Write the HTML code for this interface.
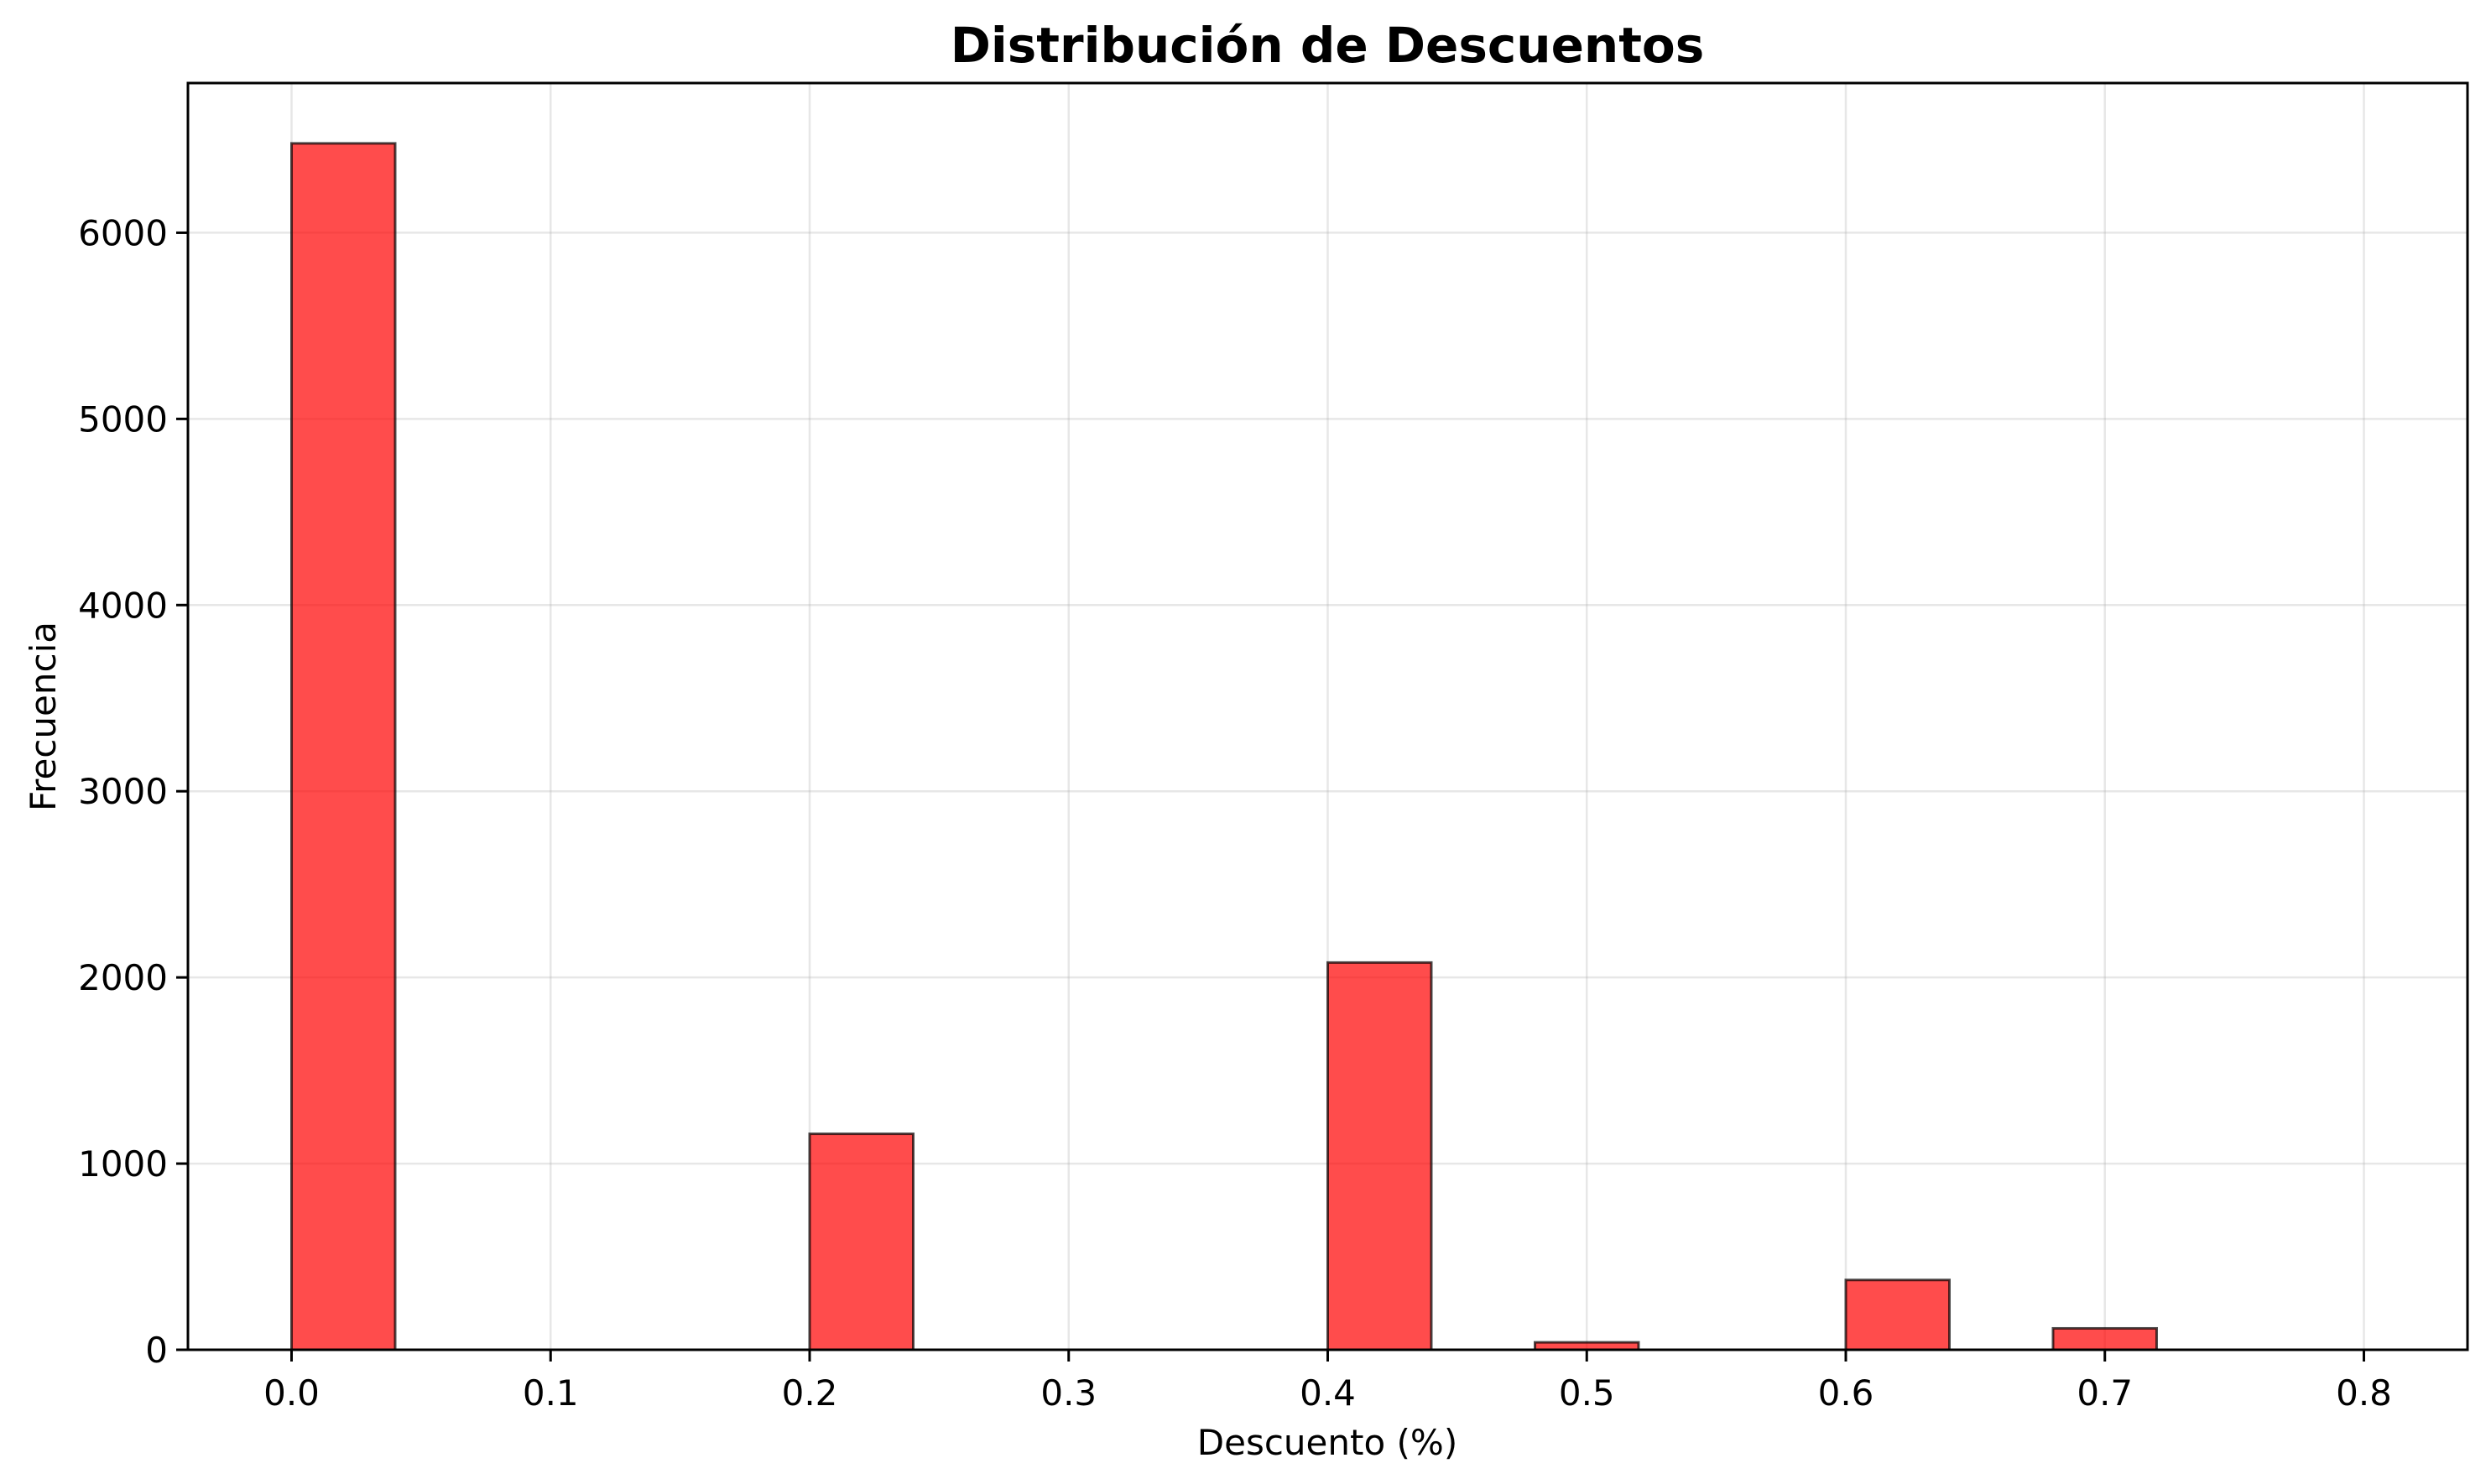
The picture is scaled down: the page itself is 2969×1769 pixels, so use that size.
<!DOCTYPE html>
<html><head><meta charset="utf-8"><style>
html,body{margin:0;padding:0;background:#fff;}
svg{display:block;font-family:"DejaVu Sans","Liberation Sans",sans-serif;}
</style></head><body>
<svg id="chart" width="2969" height="1769" viewBox="0 0 2969 1769">
<rect width="2969" height="1769" fill="#fff"/>
<g id="grid"></g>
<g id="bars"></g>
<rect x="224" y="99" width="2717" height="1510" fill="none" stroke="#000" stroke-width="3"/>
<g id="ticks"></g>
<text x="1582" y="74" text-anchor="middle" font-size="58" font-weight="bold">Distribución de Descuentos</text>
<text x="1582" y="1734" text-anchor="middle" font-size="42">Descuento (%)</text>
<text transform="translate(66,854) rotate(-90)" text-anchor="middle" font-size="42">Frecuencia</text>
</svg>
<script>
const binEdgesStart = [0.00,0.04,0.08,0.12,0.16,0.20,0.24,0.28,0.32,0.36,0.40,0.44,0.48,0.52,0.56,0.60,0.64,0.68,0.72,0.76];
const binWidth = 0.04;
const counts = [6480,0,0,0,0,1160,0,0,0,0,2080,0,40,0,0,375,0,115,0,0];
const xTicks = [0.0,0.1,0.2,0.3,0.4,0.5,0.6,0.7,0.8];
const yTicks = [0,1000,2000,3000,4000,5000,6000];

const L=224,R=2941,T=99,B=1609;
const xMin=-0.04,xMax=0.84,yMax=6804;
const xs=v=>L+(v-xMin)/(xMax-xMin)*(R-L);
const ys=v=>B-v/yMax*(B-T);
const NS="http://www.w3.org/2000/svg";
function mk(tag,attrs,parent){const e=document.createElementNS(NS,tag);for(const k in attrs)e.setAttribute(k,attrs[k]);parent.appendChild(e);return e;}
const grid=document.getElementById('grid'),bars=document.getElementById('bars'),ticks=document.getElementById('ticks');
xTicks.forEach(t=>{
  const x=xs(t);
  const g=mk('line',{x1:x,x2:x,y1:T,y2:B,stroke:'#b0b0b0','stroke-opacity':0.3,'stroke-width':2.5},grid);
  
  
  const tk=mk('line',{x1:x,x2:x,y1:B,y2:B+14,stroke:'#000','stroke-width':3},ticks);
  
  
  const tl=mk('text',{x:x,y:B+66,'text-anchor':'middle','font-size':42},ticks);
  tl.textContent=t.toFixed(1);
  
  
});
yTicks.forEach(t=>{
  const y=ys(t);
  const g=mk('line',{x1:L,x2:R,y1:y,y2:y,stroke:'#b0b0b0','stroke-opacity':0.3,'stroke-width':2.5},grid);
  
  
  const tk=mk('line',{x1:L-14,x2:L,y1:y,y2:y,stroke:'#000','stroke-width':3},ticks);
  
  
  const tl=mk('text',{x:L-24,y:y+15,'text-anchor':'end','font-size':42},ticks);
  tl.textContent=String(t);
  
  
});
counts.forEach((c,i)=>{
  const x0=xs(binEdgesStart[i]),x1=xs(binEdgesStart[i]+binWidth);
  const y=ys(c);
  const r=mk('rect',{x:x0,y:y,width:x1-x0,height:B-y,fill:'#ff0000','fill-opacity':0.7,stroke:'#000','stroke-opacity':0.7,'stroke-width':3},bars);
  
  
});
</script>
</body></html>
